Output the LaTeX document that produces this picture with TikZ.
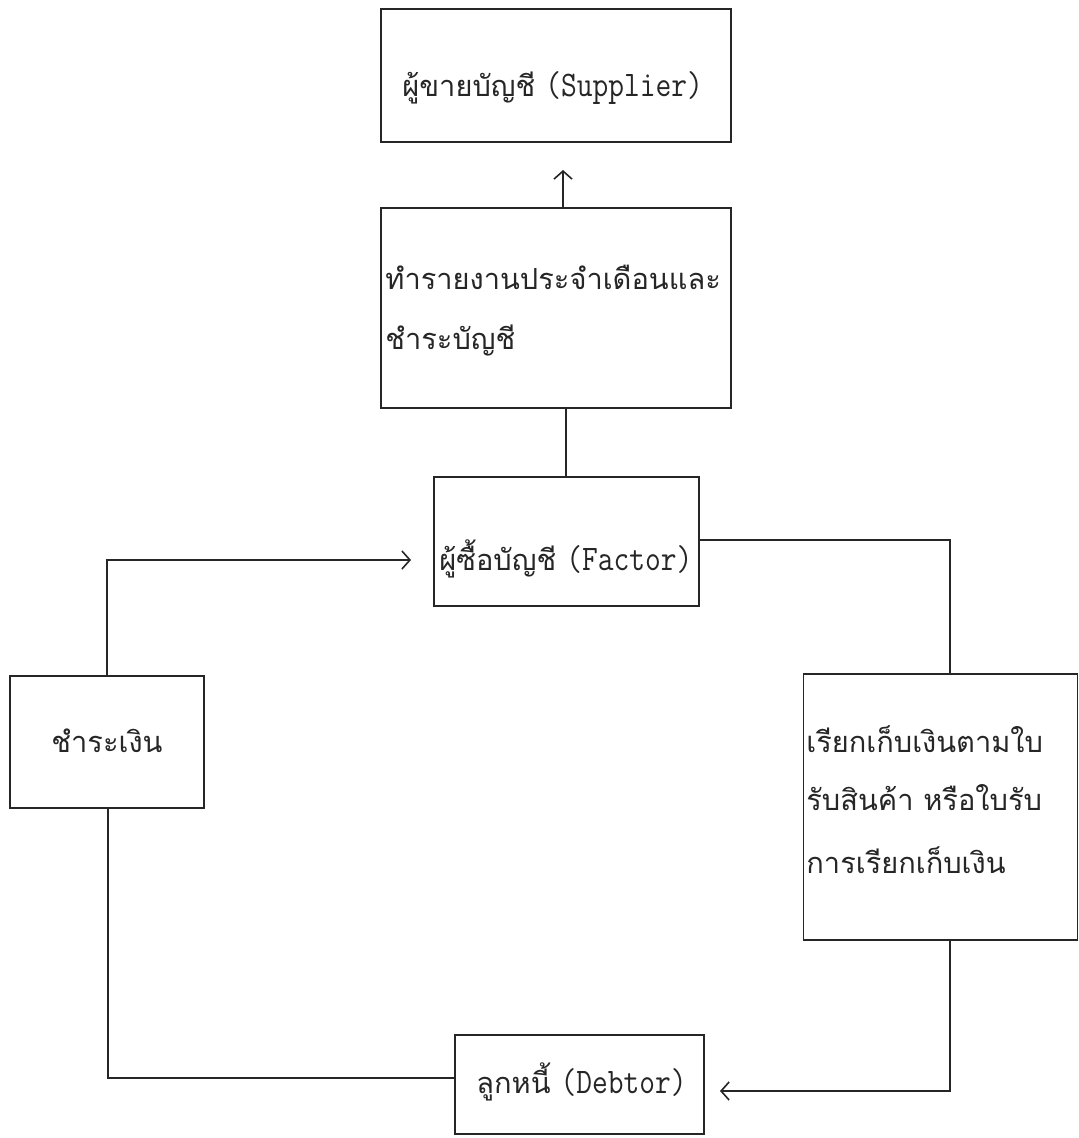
\documentclass[tikz,border=0pt]{standalone}
\usepackage{fontspec}
\newfontfamily\thai[Script=Thai]{Loma}
\newfontfamily\mono[FakeStretch=0.85]{Latin Modern Mono}
\usetikzlibrary{arrows.meta}
\begin{document}
\begin{tikzpicture}[x=0.5pt,y=-0.5pt,
  box/.style={draw=black!85, line width=0.8pt, inner sep=0pt},
  txt/.style={inner sep=0pt, anchor=base west, text=black!85, font=\thai\fontsize{14.5pt}{18pt}\selectfont},
  link/.style={draw=black!85, line width=0.8pt},
  arr/.style={link, -{Straight Barb[length=4pt,width=9pt,line width=0.8pt]}}]
\useasboundingbox (0,0) rectangle (1079,1138);
\fill[white] (0,0) rectangle (1079,1138);
% boxes
\node[box, minimum width=175pt, minimum height=66.5pt] (sup) at (556,75.5) {};
\node[box, minimum width=175pt, minimum height=100pt] (rep) at (556,308) {};
\node[box, minimum width=132.5pt, minimum height=64.5pt] (fac) at (566.5,541.5) {};
\node[box, minimum width=97pt, minimum height=66pt] (pay) at (107,742) {};
\node[box, minimum width=137pt, minimum height=133pt] (col) at (940.5,807) {};
\node[box, minimum width=124.5pt, minimum height=49.5pt] (deb) at (579.5,1084.5) {};
% texts
\node[txt] (supt) at (402,97) {ผู้ขายบัญชี\hspace{5pt}{\mono\fontsize{18pt}{18pt}\selectfont (Supplier)}};
\node[txt] (rept1) at (385,290) {ทำรายงานประจำเดือนและ};
\node[txt] (rept2) at (385,350) {ชำระบัญชี};
\node[txt] (fact) at (439,570) {ผู้ซื้อบัญชี\hspace{5pt}{\mono\fontsize{18pt}{18pt}\selectfont (Factor)}};
\node[txt, anchor=base] (payt) at (107,752) {ชำระเงิน};
\node[txt] (colt1) at (806,752) {เรียกเก็บเงินตามใบ};
\node[txt] (colt2) at (806,810) {รับสินค้า หรือใบรับ};
\node[txt] (colt3) at (806,873) {การเรียกเก็บเงิน};
\node[txt] (debt) at (476,1093) {ลูกหนี้\hspace{5pt}{\mono\fontsize{18pt}{18pt}\selectfont (Debtor)}};
% connector points
\coordinate (a1) at (563,170);
\coordinate (l1) at (107,560);
\coordinate (l2) at (411,560);
\coordinate (r1) at (950,540);
\coordinate (b1) at (108,1078);
\coordinate (b2) at (950,1091);
\coordinate (b3) at (720,1091);
% connectors
\draw[arr] (rep.north -| a1) -- (a1);
\draw[link] (fac.north -| 566,0) -- (rep.south -| 566,0);
\draw[arr] (pay.north -| l1) -- (l1) -- (l2);
\draw[link] (fac.east |- r1) -- (r1) -- (col.north -| r1);
\draw[link] (pay.south -| b1) -- (b1) -- (deb.west |- b1);
\draw[arr] (col.south -| b2) -- (b2) -- (b3);
\end{tikzpicture}
\end{document}
